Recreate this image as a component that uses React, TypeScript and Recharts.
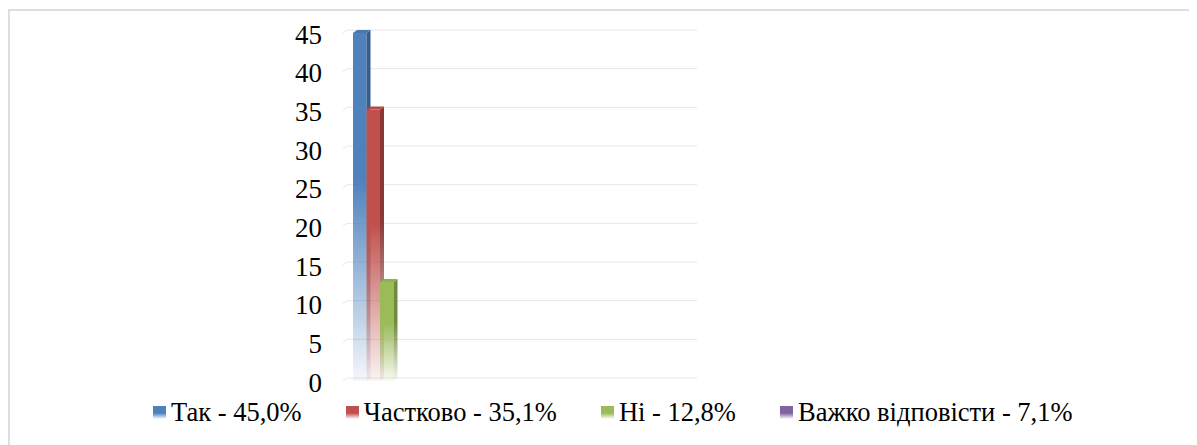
import { BarChart, Bar, XAxis, YAxis, CartesianGrid } from "recharts";

const SERIES = ["Так - 45,0%", "Частково - 35,1%", "Ні - 12,8%", "Важко відповісти - 7,1%"];
const KEYS = ["tak", "chastkovo", "ni", "vazhko"];
const VALUES = [45, 35.1, 12.8, 7.1];
// the purple bar is not visible in the picture, only its legend entry
const VISIBLE = [true, true, true, false];
const Y_TICKS = [0, 5, 10, 15, 20, 25, 30, 35, 40, 45];

const COLORS = ["#4f81bd", "#c0504d", "#9bbb59", "#8064a2"];
const SIDES = ["#385d8a", "#8c3836", "#6f8a3c", "#5c4776"];
const TOPS = ["#4778b3", "#b54a47", "#8fb04f", "#7459a0"];

const data = [
  Object.fromEntries([["name", ""], ...KEYS.map((k, i) => [k, VALUES[i]])]),
];

const FONT = '"Liberation Serif"';
const D = 4; // 3d depth, x
const E = 3; // 3d depth, y

function make3dBar(i: number) {
  // eslint-disable-next-line @typescript-eslint/no-explicit-any
  return (props: any) => {
    const { x, y, width, height } = props;
    if (height == null || height <= 0) return <g />;
    const fy = y + E;
    return (
      <g>
        <rect x={x} y={fy} width={width} height={height} fill={`url(#bar-front-${i})`} />
        <polygon
          points={`${x + width},${fy} ${x + width + D},${fy - E} ${x + width + D},${fy + height - E} ${x + width},${fy + height}`}
          fill={`url(#bar-side-${i})`}
        />
        <polygon
          points={`${x},${fy} ${x + D},${fy - E} ${x + width + D},${fy - E} ${x + width},${fy}`}
          fill={TOPS[i]}
        />
      </g>
    );
  };
}

// eslint-disable-next-line @typescript-eslint/no-explicit-any
function GridLine(props: any) {
  const { x1, y1, x2 } = props;
  return (
    <path
      key={props.key}
      d={`M${x1},${y1 + E} L${x1 + D},${y1} L${x2},${y1}`}
      stroke="#e6e6e6"
      strokeWidth={1}
      fill="none"
    />
  );
}

function Legend() {
  return (
    <div
      style={{
        position: "absolute",
        left: 145,
        top: 389,
        display: "flex",
        gap: 44,
        fontFamily: FONT,
        fontSize: 26.5,
        color: "#000",
        whiteSpace: "nowrap",
      }}
    >
      {SERIES.map((s, i) => (
        <div key={s} style={{ display: "flex", alignItems: "center" }}>
          <span
            style={{
              display: "inline-block",
              width: 13,
              height: 13,
              marginRight: 5,
              background: `linear-gradient(to bottom, ${COLORS[i]} 55%, #ffffff)`,
            }}
          />
          <span>{s}</span>
        </div>
      ))}
    </div>
  );
}

export default function App() {
  return (
    <div style={{ position: "relative", width: 1189, height: 437, fontFamily: FONT }}>
      <div
        style={{
          position: "absolute",
          left: 0,
          top: 1,
          right: 0,
          bottom: 0,
          borderTop: "2px solid #dedede",
          borderLeft: "2px solid #dedede",
        }}
      />
      <div style={{ position: "absolute", left: 0, top: 0 }}>
        <BarChart
          width={1189}
          height={437}
          data={data}
          margin={{ top: 22, right: 500, bottom: 67, left: 275 }}
          barGap={0}
        >
          <defs>
            {COLORS.map((c, i) => (
              <linearGradient key={c} id={`bar-front-${i}`} x1="0" y1="0" x2="0" y2="1">
                <stop offset="0%" stopColor={c} stopOpacity={1} />
                <stop offset="42%" stopColor={c} stopOpacity={1} />
                <stop offset="100%" stopColor={c} stopOpacity={0.06} />
              </linearGradient>
            ))}
            {SIDES.map((c, i) => (
              <linearGradient key={c} id={`bar-side-${i}`} x1="0" y1="0" x2="0" y2="1">
                <stop offset="0%" stopColor={c} stopOpacity={1} />
                <stop offset="42%" stopColor={c} stopOpacity={1} />
                <stop offset="100%" stopColor={c} stopOpacity={0.06} />
              </linearGradient>
            ))}
          </defs>
          <CartesianGrid vertical={false} horizontal={GridLine} />
          <XAxis dataKey="name" hide padding={{ left: 10, right: 303 }} />
          <YAxis
            domain={[0, 45]}
            ticks={Y_TICKS}
            width={60}
            axisLine={false}
            tickLine={false}
            tickSize={0}
            tickMargin={21}
            interval={0}
            tick={{ fontSize: 27, fill: "#000", fontFamily: FONT, dy: 4 }}
          />
          {KEYS.map((k, i) =>
            VISIBLE[i] ? (
              <Bar
                key={k}
                dataKey={k}
                barSize={13.5}
                fill={COLORS[i]}
                shape={make3dBar(i)}
                isAnimationActive={false}
              />
            ) : null
          )}
        </BarChart>
      </div>
      <Legend />
    </div>
  );
}
